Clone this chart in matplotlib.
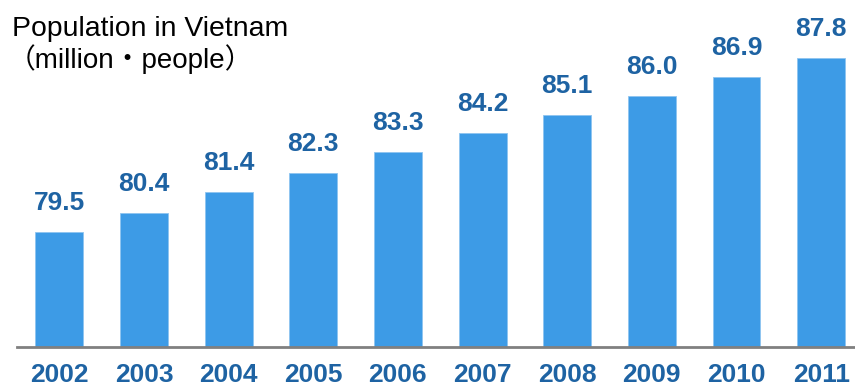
import matplotlib
matplotlib.use("Agg")
import matplotlib.pyplot as plt

years = ["2002", "2003", "2004", "2005", "2006", "2007", "2008", "2009", "2010", "2011"]
population = [79.5, 80.4, 81.4, 82.3, 83.3, 84.2, 85.1, 86.0, 86.9, 87.8]

bar_color = "#3D9BE6"
label_color = "#1E63A3"

plt.rcParams["font.family"] = ["Liberation Sans", "Noto Sans CJK JP", "DejaVu Sans"]

fig = plt.figure(figsize=(8.55, 3.9), dpi=100)
ax = fig.add_axes([0.0199, 0.1103, 0.9801, 0.8897])

x = range(len(years))
ax.bar(x, population, width=0.567, color=bar_color, edgecolor="#8EC4F0", linewidth=0.6,
       bottom=0, zorder=2)
ax.set_ylim(74, 90.57)
ax.set_xlim(-0.5, 9.4)

for xi, v in zip(x, population):
    ax.annotate(f"{v:.1f}", (xi, v), xytext=(0, 17), textcoords="offset pixels",
                ha="center", va="bottom", fontsize=19, fontweight="bold", color=label_color)

for side in ["top", "right", "left"]:
    ax.spines[side].set_visible(False)
ax.spines["bottom"].set_color("#808080")
ax.spines["bottom"].set_linewidth(2)
ax.set_yticks([])
ax.set_xticks(list(x))
ax.set_xticklabels(years, fontsize=19, fontweight="bold", color=label_color)
ax.tick_params(axis="x", length=0, pad=11.5)

fig.text(12 / 855, 1 - 36 / 390, "Population in Vietnam", fontsize=20.4, color="black",
         ha="left", va="baseline")
fig.text(8 / 855, 1 - 68 / 390, "（million・people）", fontsize=20, color="black",
         ha="left", va="baseline")

fig.savefig("out.png", dpi=100)
